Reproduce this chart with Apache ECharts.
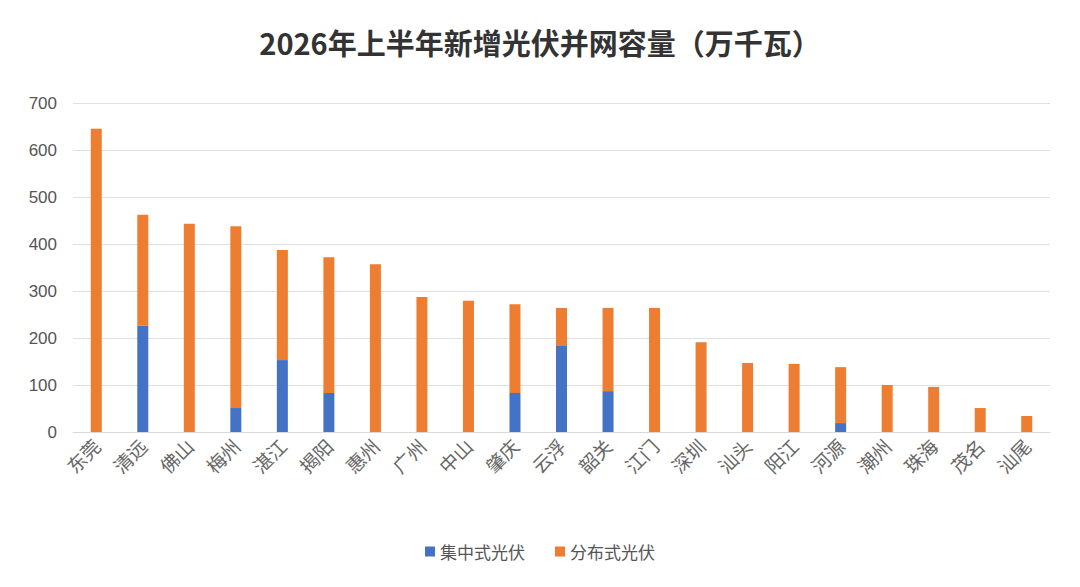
<!DOCTYPE html>
<html><head><meta charset="utf-8">
<script src="https://cdn.jsdelivr.net/npm/echarts@6/dist/echarts.min.js"></script>
<style>html,body{margin:0;padding:0;background:#fff}#c{width:1080px;height:587px}</style>
</head><body><div id="c"></div>
<script>
var cities = ['东莞','清远','佛山','梅州','湛江','揭阳','惠州','广州','中山','肇庆','云浮','韶关','江门','深圳','汕头','阳江','河源','潮州','珠海','茂名','汕尾'];
var central = [0,226,0,51,153,83,0,0,0,83,183,87,0,0,0,0,19,0,0,0,0];
var totals = [645,462,443,438,387,372,357,287,279,272,264,264,264,191,147,145,138,100,96,51,34];
var distributed = totals.map(function(t, i) { return t - central[i]; });

var chart = echarts.init(document.getElementById('c'), null, { renderer: 'svg' });
chart.setOption({
  animation: false,
  title: {
    text: '2026年上半年新增光伏并网容量（万千瓦）',
    left: 'center', top: 22,
    textStyle: { fontSize: 29, fontWeight: 'bold', color: '#333', fontFamily: 'Noto Sans CJK SC' }
  },
  legend: {
    data: ['集中式光伏', '分布式光伏'],
    bottom: 22, itemWidth: 10, itemHeight: 10, itemGap: 30, icon: 'rect',
    textStyle: { fontSize: 17, color: '#555', fontFamily: 'Noto Sans CJK SC' }
  },
  grid: { left: 73, right: 30, top: 103, bottom: 155 },
  xAxis: {
    type: 'category', data: cities,
    axisLabel: { rotate: 45, fontSize: 19, color: '#666', interval: 0, fontFamily: 'Noto Sans CJK SC', margin: 10 },
    axisLine: { lineStyle: { color: '#d9d9d9' } },
    axisTick: { show: false }
  },
  yAxis: {
    type: 'value', min: 0, max: 700, interval: 100,
    axisLabel: { fontSize: 17, color: '#555', margin: 16 },
    splitLine: { lineStyle: { color: '#e0e0e0' } }
  },
  series: [
    { name: '集中式光伏', type: 'bar', stack: 'a', data: central, barWidth: 11, itemStyle: { color: '#4472C4' } },
    { name: '分布式光伏', type: 'bar', stack: 'a', data: distributed, barWidth: 11, itemStyle: { color: '#ED7D31' } }
  ]
});
</script></body></html>
